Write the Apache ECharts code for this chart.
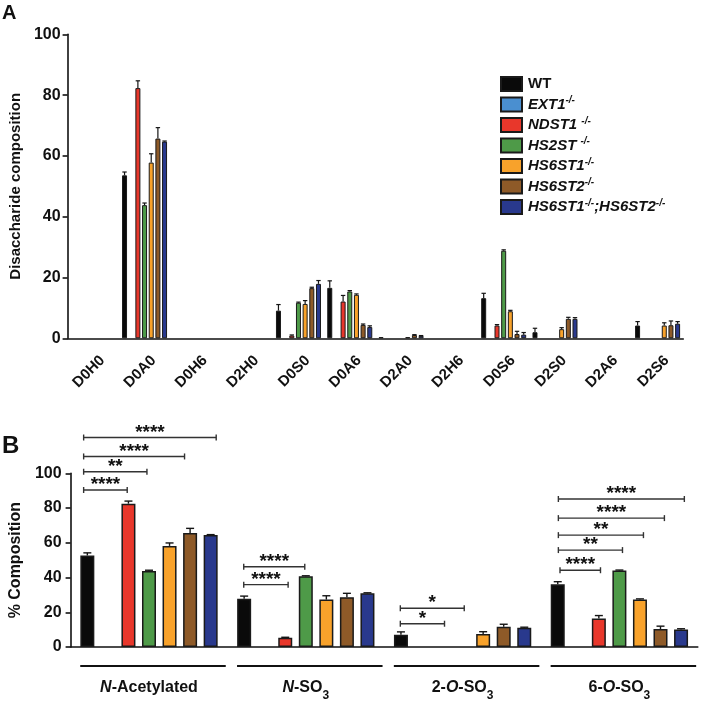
<!DOCTYPE html>
<html><head><meta charset="utf-8">
<script src="https://cdn.jsdelivr.net/npm/echarts@6/dist/echarts.min.js"></script>
<style>html,body{margin:0;padding:0;background:#fff}#c{width:701px;height:702px}</style>
</head><body><div id="c"></div>
<script>
const FONT = '"Liberation Sans", Arial, sans-serif';
const seriesNames = ['WT','EXT1-/-','NDST1 -/-','HS2ST -/-','HS6ST1-/-','HS6ST2-/-','HS6ST1-/-;HS6ST2-/-'];
const seriesColors = ['#0a0a0a','#4a8fd0','#e8372b','#4e9a48','#f8a22b','#8e5a28','#29398d'];
const legendRich = ['{b|WT}','{i|EXT1}{s|-/-}','{i|NDST1 }{s|-/-}','{i|HS2ST }{s|-/-}','{i|HS6ST1}{s|-/-}','{i|HS6ST2}{s|-/-}','{i|HS6ST1}{s|-/-}{i|;HS6ST2}{s|-/-}'];

// ---------- Panel A ----------
const catsA = ['D0H0','D0A0','D0H6','D2H0','D0S0','D0A6','D2A0','D2H6','D0S6','D2S0','D2A6','D2S6'];
const yTicksA = [0,20,40,60,80,100];
const wtA       = [null,53.6,null,null, 9.1,16.6,0.4,null,13.2,2.0,null,4.2];
const wtAErr    = [null, 1.1,null,null, 2.0, 2.3,0.0,null, 1.6,1.3,null,1.3];
const ext1A     = [null,null,null,null,null,null,null,null,null,null,null,null];
const ext1AErr  = [null,null,null,null,null,null,null,null,null,null,null,null];
const ndst1A    = [null,82.3,null,null, 0.9,12.1,null,null, 4.2,null,null,null];
const ndst1AErr = [null, 2.4,null,null, 0.2, 2.0,null,null, 0.3,null,null,null];
const hs2stA    = [null,43.8,null,null,11.7,15.4,null,null,28.8,null,null,null];
const hs2stAErr = [null, 0.7,null,null, 0.2, 0.3,null,null, 0.3,null,null,null];
const hs6st1A   = [null,57.8,null,null,11.3,14.3,0.4,null, 8.9,3.0,null,4.2];
const hs6st1AErr= [null, 2.9,null,null, 1.1, 0.3,0.0,null, 0.3,0.5,null,0.9];
const hs6st2A   = [null,65.7,null,null,16.5, 4.4,1.1,null, 1.4,6.4,null,4.3];
const hs6st2AErr= [null, 3.6,null,null, 0.3, 0.3,0.1,null, 0.9,0.5,null,1.4];
const dkoA      = [null,64.7,null,null,17.9, 3.7,0.8,null, 1.2,6.4,null,4.8];
const dkoAErr   = [null, 0.2,null,null, 1.1, 0.4,0.1,null, 0.7,0.4,null,0.7];

// ---------- Panel B ----------
const catsB = ['N-Acetylated','N-SO3','2-O-SO3','6-O-SO3'];
const catsBRich = ['{i|N}{n|-Acetylated}','{i|N}{n|-SO}{sub|3}','{n|2-}{i|O}{n|-SO}{sub|3}','{n|6-}{i|O}{n|-SO}{sub|3}'];
const yTicksB = [0,20,40,60,80,100];
const wtB        = [52.7,27.8, 7.0,36.1];
const wtBErr     = [ 1.5, 1.5, 1.7, 1.5];
const ext1B      = [null,null,null,null];
const ext1BErr   = [null,null,null,null];
const ndst1B     = [82.5, 5.3,null,16.4];
const ndst1BErr  = [ 1.5, 0.3,null, 1.7];
const hs2stB     = [43.8,40.7,null,44.0];
const hs2stBErr  = [ 0.4, 0.3,null, 0.3];
const hs6st1B    = [58.2,27.3, 7.5,27.4];
const hs6st1BErr = [ 1.7, 2.2, 1.3, 0.3];
const hs6st2B    = [65.7,28.7,11.6,10.3];
const hs6st2BErr = [ 2.6, 2.2, 1.5, 1.7];
const dkoB       = [64.5,30.9,11.1,10.1];
const dkoBErr    = [ 0.2, 0.3, 0.3, 0.4];

// significance brackets (category, from/to bar slot, height in % units, label)
const bracketCat   = [0,0,0,0, 1,1, 2,2, 3,3,3,3,3];
const bracketFrom  = [-0.18,-0.18,-0.18,-0.18, -0.02,-0.02, -0.03,-0.03, 0.11,0.03,0.03,0.03,0.03];
const bracketTo    = [1.94,2.90,4.73,6.27, 2.14,2.95, 2.12,3.08, 2.08,3.15,4.17,5.19,6.16];
const bracketY     = [90.4,100.9,109.7,120.6, 35.9,46.2, 13.4,22.3, 44.2,55.8,64.4,74.2,85.2];
const bracketLabel = ['****','**','****','****', '****','****', '*','*', '****','**','**','****','****'];

const valsA = [wtA,ext1A,ndst1A,hs2stA,hs6st1A,hs6st2A,dkoA];
const errsA = [wtAErr,ext1AErr,ndst1AErr,hs2stAErr,hs6st1AErr,hs6st2AErr,dkoAErr];
const valsB = [wtB,ext1B,ndst1B,hs2stB,hs6st1B,hs6st2B,dkoB];
const errsB = [wtBErr,ext1BErr,ndst1BErr,hs2stBErr,hs6st1BErr,hs6st2BErr,dkoBErr];

const BW_A = 5, GAP_A = 0.334, BW_B = 14, GAP_B = 0.468;
const SLOT_A = BW_A*(1+GAP_A), SLOT_B = BW_B*(1+GAP_B);

function errData(vals, errs){
  const out = [];
  vals.forEach((arr, s) => arr.forEach((v, c) => {
    if (v != null && errs[s][c] != null && errs[s][c] > 0) out.push([c, v, errs[s][c], s]);
  }));
  return out;
}
function errRender(slot, cap, lw){
  return function(params, api){
    const c = api.value(0), v = api.value(1), e = api.value(2), s = api.value(3);
    const b = api.coord([c, v]); const t = api.coord([c, v + e]);
    const x = b[0] + (s - 3) * slot;
    return {type:'group', children:[
      {type:'line', shape:{x1:x,y1:b[1],x2:x,y2:t[1]}, style:{stroke:'#151515', lineWidth:lw}},
      {type:'line', shape:{x1:x-cap,y1:t[1],x2:x+cap,y2:t[1]}, style:{stroke:'#151515', lineWidth:lw}}
    ]};
  };
}

const series = [];
seriesNames.forEach((n, s) => {
  series.push({type:'bar', name:n, xAxisIndex:0, yAxisIndex:0, data:valsA[s], barWidth:BW_A, barGap:(GAP_A*100)+'%',
    itemStyle:{color:seriesColors[s], borderColor:'#1a1a1a', borderWidth:1}});
});
seriesNames.forEach((n, s) => {
  series.push({type:'bar', name:n, xAxisIndex:1, yAxisIndex:1, data:valsB[s], barWidth:BW_B, barGap:(GAP_B*100)+'%',
    itemStyle:{color:seriesColors[s], borderColor:'#1a1a1a', borderWidth:1.5}});
});
series.push({type:'custom', xAxisIndex:0, yAxisIndex:0, data:errData(valsA, errsA), renderItem:errRender(SLOT_A, 2.2, 1.2), z:5});
series.push({type:'custom', xAxisIndex:1, yAxisIndex:1, data:errData(valsB, errsB), renderItem:errRender(SLOT_B, 4, 1.4), z:5});
// brackets
series.push({type:'custom', xAxisIndex:1, yAxisIndex:1, z:6,
  data: bracketCat.map((c,i)=>[c, bracketY[i], bracketFrom[i], bracketTo[i], i]),
  renderItem: function(params, api){
    const c = api.value(0), y = api.value(1), f = api.value(2), t = api.value(3), i = api.value(4);
    const p = api.coord([c, y]);
    const x1 = p[0] + (f-3)*SLOT_B, x2 = p[0] + (t-3)*SLOT_B;
    const st = {stroke:'#333', lineWidth:1.4};
    return {type:'group', children:[
      {type:'line', shape:{x1:x1,y1:p[1],x2:x2,y2:p[1]}, style:st},
      {type:'line', shape:{x1:x1,y1:p[1]-3,x2:x1,y2:p[1]+3}, style:st},
      {type:'line', shape:{x1:x2,y1:p[1]-3,x2:x2,y2:p[1]+3}, style:st},
      {type:'text', style:{text:bracketLabel[i], x:(x1+x2)/2, y:p[1]-5, align:'center', verticalAlign:'middle',
        font:'bold 19px ' + FONT, fill:'#111'}}
    ]};
  }});
// group underlines
series.push({type:'custom', xAxisIndex:1, yAxisIndex:1, z:6,
  data: catsB.map((c,i)=>[i]),
  renderItem: function(params, api){
    const p = api.coord([api.value(0), 0]);
    const w = api.size([1,0])[0];
    return {type:'line', shape:{x1:p[0]-0.464*w+4, y1:p[1]+19, x2:p[0]+0.464*w+4, y2:p[1]+19},
      style:{stroke:'#111', lineWidth:1.8}};
  }});

const axisLbl = {fontFamily:FONT, fontWeight:'bold', fontSize:16, color:'#111'};
const option = {
  animation:false,
  textStyle:{fontFamily:FONT},
  graphic:[
    {type:'text', left:2, top:3, style:{text:'A', font:'bold 20px ' + FONT, fill:'#111'}},
    {type:'text', left:2, top:434, style:{text:'B', font:'bold 24px ' + FONT, fill:'#111'}}
  ],
  legend:{
    data:seriesNames, orient:'vertical', left:495, top:71, itemWidth:21, itemHeight:14, itemGap:3.5,
    selectedMode:false, icon:'rect',
    formatter:function(name){ return legendRich[seriesNames.indexOf(name)]; },
    textStyle:{padding:[0,0,0,1], rich:{
      b:{fontFamily:FONT, fontWeight:'bold', fontSize:15, lineHeight:18, color:'#111'},
      i:{fontFamily:FONT, fontWeight:'bold', fontStyle:'italic', fontSize:15, lineHeight:18, color:'#111'},
      s:{fontFamily:FONT, fontWeight:'bold', fontStyle:'italic', fontSize:10, lineHeight:10, verticalAlign:'top', color:'#111'}
    }}
  },
  grid:[
    {left:65.25, width:618, top:34.3, height:304},
    {left:69, width:628.8, top:473.3, height:181}
  ],
  xAxis:[
    {type:'category', gridIndex:0, data:catsA,
      axisLine:{lineStyle:{color:'#111', width:1.6}},
      axisTick:{alignWithLabel:true, length:5, lineStyle:{color:'#111', width:1.6}},
      axisLabel:Object.assign({}, axisLbl, {fontSize:15, rotate:45, interval:0, margin:29, padding:[0,-13,0,0]})},
    {type:'category', gridIndex:1, data:catsB,
      axisLine:{lineStyle:{color:'#111', width:1.6}},
      axisTick:{alignWithLabel:true, length:6, lineStyle:{color:'#111', width:1.6}},
      axisLabel:{interval:0, margin:31, formatter:function(v){ return catsBRich[catsB.indexOf(v)]; },
        rich:{
          n:{fontFamily:FONT, fontWeight:'bold', fontSize:16, color:'#111', lineHeight:20},
          i:{fontFamily:FONT, fontWeight:'bold', fontStyle:'italic', fontSize:16, color:'#111', lineHeight:20},
          sub:{fontFamily:FONT, fontWeight:'bold', fontSize:12, color:'#111', lineHeight:12, verticalAlign:'bottom', padding:[0,0,-4,0]}
        }}}
  ],
  yAxis:[
    {type:'value', gridIndex:0, min:yTicksA[0], max:yTicksA[yTicksA.length-1], interval:20,
      name:'Disaccharide composition', nameLocation:'middle', nameGap:42,
      nameTextStyle:{fontFamily:FONT, fontWeight:'bold', fontSize:15, color:'#111'},
      splitLine:{show:false},
      axisLine:{show:true, lineStyle:{color:'#111', width:1.6}},
      axisTick:{show:true, length:5, lineStyle:{color:'#111', width:1.6}},
      axisLabel:Object.assign({}, axisLbl, {margin:7})},
    {type:'value', gridIndex:1, min:yTicksB[0], max:yTicksB[yTicksB.length-1], interval:20,
      name:'% Composition', nameLocation:'middle', nameGap:45,
      nameTextStyle:{fontFamily:FONT, fontWeight:'bold', fontSize:16, color:'#111'},
      splitLine:{show:false},
      axisLine:{show:true, lineStyle:{color:'#111', width:1.6}},
      axisTick:{show:true, length:5, lineStyle:{color:'#111', width:1.6}},
      axisLabel:Object.assign({}, axisLbl, {margin:9})}
  ],
  series:series
};
const chart = echarts.init(document.getElementById('c'), null, {renderer:'canvas'});
chart.setOption(option);
</script></body></html>
